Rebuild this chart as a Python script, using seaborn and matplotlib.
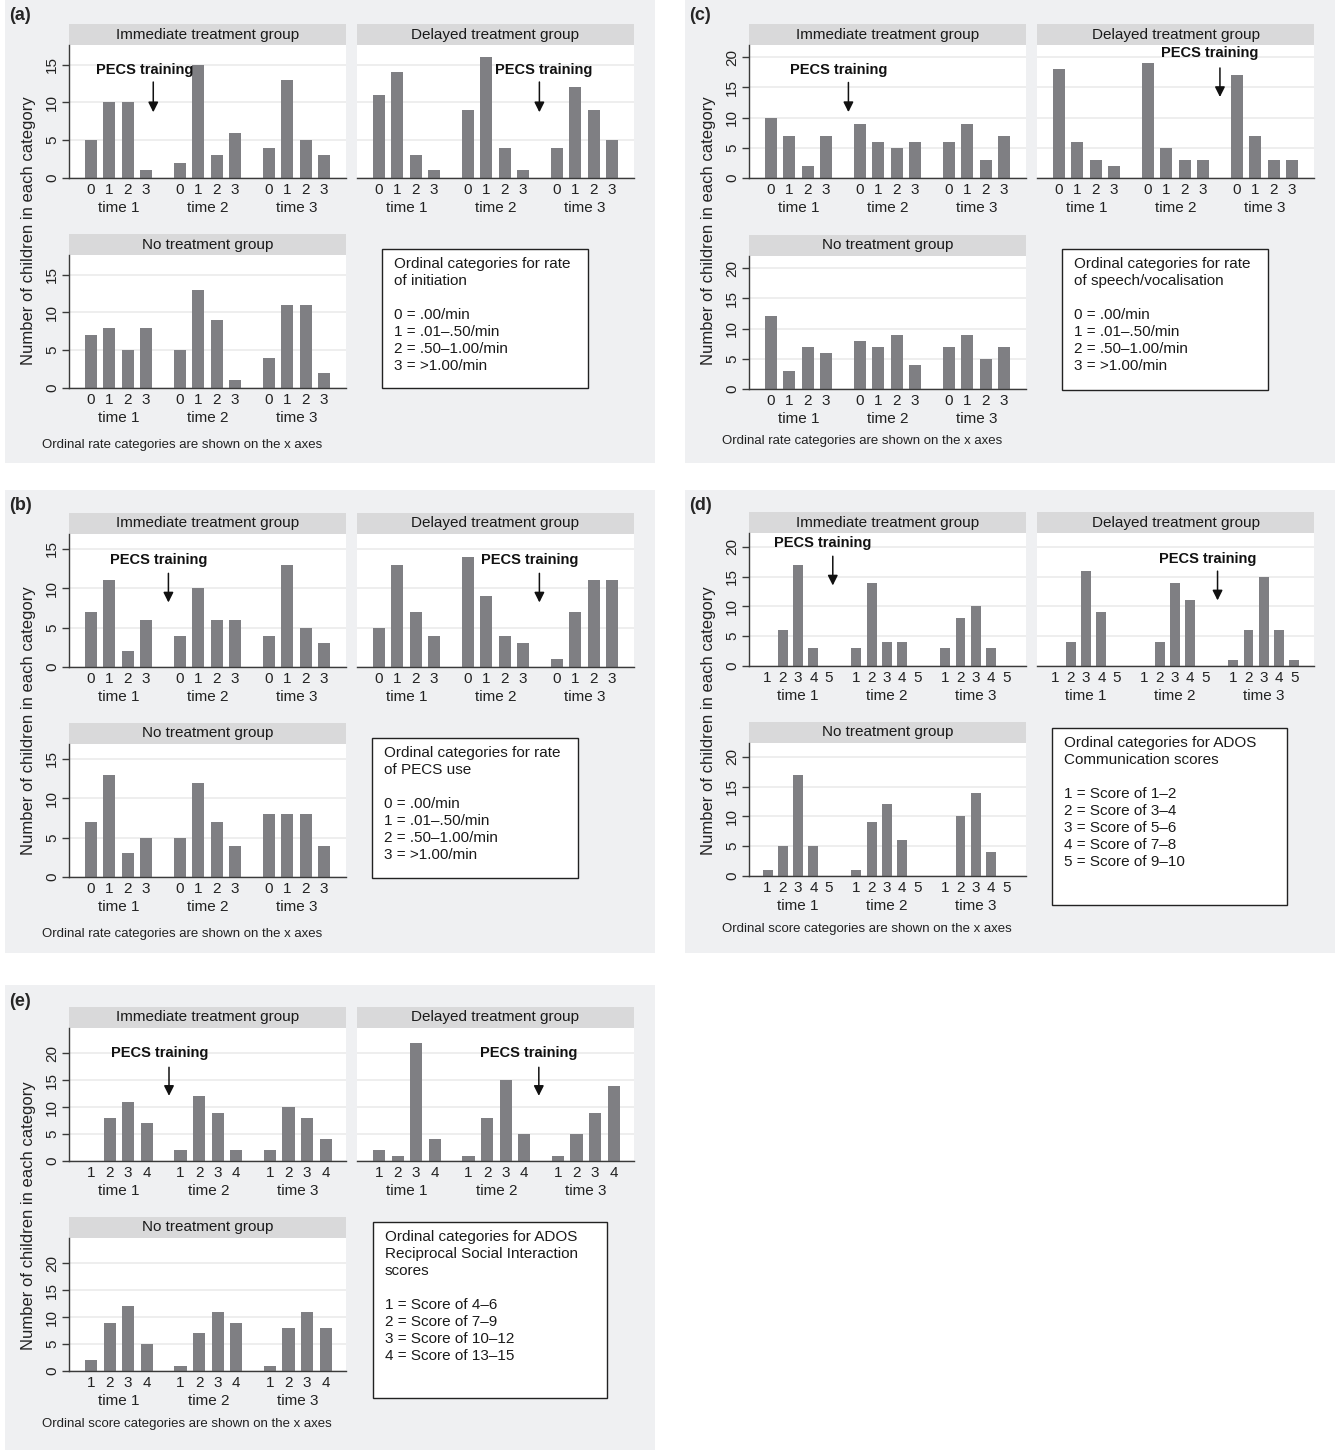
import matplotlib
matplotlib.use("Agg")
import matplotlib.pyplot as plt
from matplotlib.patches import Rectangle
import pandas as pd
import seaborn as sns

sns.set_theme(style="whitegrid")
plt.rcParams['font.family'] = ['Liberation Sans Narrow', 'Liberation Sans', 'DejaVu Sans']

W, H = 1338, 1450

GROUPS = ["Immediate treatment group", "Delayed treatment group", "No treatment group"]
TIMES = ["time 1", "time 2", "time 3"]
RATE_CATS = ["0", "1", "2", "3"]
COMM_CATS = ["1", "2", "3", "4", "5"]
RSI_CATS = ["1", "2", "3", "4"]

# (a) rate of initiation: counts per time point
init_immediate = [[5, 10, 10, 1], [2, 15, 3, 6], [4, 13, 5, 3]]
init_delayed = [[11, 14, 3, 1], [9, 16, 4, 1], [4, 12, 9, 5]]
init_none = [[7, 8, 5, 8], [5, 13, 9, 1], [4, 11, 11, 2]]

# (b) rate of PECS use
pecs_immediate = [[7, 11, 2, 6], [4, 10, 6, 6], [4, 13, 5, 3]]
pecs_delayed = [[5, 13, 7, 4], [14, 9, 4, 3], [1, 7, 11, 11]]
pecs_none = [[7, 13, 3, 5], [5, 12, 7, 4], [8, 8, 8, 4]]

# (c) rate of speech/vocalisation
speech_immediate = [[10, 7, 2, 7], [9, 6, 5, 6], [6, 9, 3, 7]]
speech_delayed = [[18, 6, 3, 2], [19, 5, 3, 3], [17, 7, 3, 3]]
speech_none = [[12, 3, 7, 6], [8, 7, 9, 4], [7, 9, 5, 7]]

# (d) ADOS communication
comm_immediate = [[0, 6, 17, 3, 0], [3, 14, 4, 4, 0], [3, 8, 10, 3, 0]]
comm_delayed = [[0, 4, 16, 9, 0], [0, 4, 14, 11, 0], [1, 6, 15, 6, 1]]
comm_none = [[1, 5, 17, 5, 0], [1, 9, 12, 6, 0], [0, 10, 14, 4, 0]]

# (e) ADOS reciprocal social interaction
rsi_immediate = [[0, 8, 11, 7], [2, 12, 9, 2], [2, 10, 8, 4]]
rsi_delayed = [[2, 1, 22, 4], [1, 8, 15, 5], [1, 5, 9, 14]]
rsi_none = [[2, 9, 12, 5], [1, 7, 11, 9], [1, 8, 11, 8]]

RATE_KEY = ["0 = .00/min", "1 = .01\u2013.50/min", "2 = .50\u20131.00/min", "3 = >1.00/min"]

PANEL_BG = "#eff0f2"
STRIP = "#d9d9da"
BAR = "#7f7f83"
GRID = "#e9e9ea"
AXC = "#3a3a3a"

panels = [
    dict(label="(a)", origin=(5, 0, 650, 463), data=[init_immediate, init_delayed, init_none],
         cats=RATE_CATS, ylim=17.6, yticks=[0, 5, 10, 15], tops=(45, 255), xlim=(-1.17, 13.82),
         arrows=[(3.39, 2.9, 14.3, 12.7, 8.7), (8.7, 8.95, 14.3, 12.7, 8.7)],
         key=["Ordinal categories for rate", "of initiation", ""] + RATE_KEY,
         keybox=(377, 249, 206, 139), foot="Ordinal rate categories are shown on the x axes", foot_y=445),
    dict(label="(c)", origin=(685, 0, 650, 463), data=[speech_immediate, speech_delayed, speech_none],
         cats=RATE_CATS, ylim=22.0, yticks=[0, 5, 10, 15, 20], tops=(45, 256), xlim=(-1.17, 13.82),
         arrows=[(4.21, 3.67, 17.9, 15.8, 10.9), (8.73, 8.2, 20.6, 18.2, 13.4)],
         key=["Ordinal categories for rate", "of speech/vocalisation", ""] + RATE_KEY,
         keybox=(377, 249, 206, 141), foot="Ordinal rate categories are shown on the x axes", foot_y=441),
    dict(label="(b)", origin=(5, 490, 650, 463), data=[pecs_immediate, pecs_delayed, pecs_none],
         cats=RATE_CATS, ylim=16.9, yticks=[0, 5, 10, 15], tops=(44, 254), xlim=(-1.17, 13.82),
         arrows=[(4.21, 3.67, 13.6, 11.9, 8.2), (8.7, 8.16, 13.6, 11.9, 8.2)],
         key=["Ordinal categories for rate", "of PECS use", ""] + RATE_KEY,
         keybox=(367, 248, 206, 140), foot="Ordinal rate categories are shown on the x axes", foot_y=444),
    dict(label="(d)", origin=(685, 490, 650, 463), data=[comm_immediate, comm_delayed, comm_none],
         cats=COMM_CATS, ylim=22.3, yticks=[0, 5, 10, 15, 20], tops=(43, 253), xlim=(-1.22, 16.93),
         arrows=[(4.27, 3.62, 20.6, 18.4, 13.5), (10.61, 9.96, 18.0, 15.9, 11.0)],
         key=["Ordinal categories for ADOS", "Communication scores", "",
              "1 = Score of 1\u20132", "2 = Score of 3\u20134", "3 = Score of 5\u20136",
              "4 = Score of 7\u20138", "5 = Score of 9\u201310"],
         keybox=(367, 238, 235, 177), foot="Ordinal score categories are shown on the x axes", foot_y=439),
    dict(label="(e)", origin=(5, 985, 650, 465), data=[rsi_immediate, rsi_delayed, rsi_none],
         cats=RSI_CATS, ylim=24.7, yticks=[0, 5, 10, 15, 20], tops=(43, 253), xlim=(-1.19, 13.74),
         arrows=[(4.2, 3.69, 20.0, 17.4, 12.1), (8.61, 8.05, 20.0, 17.4, 12.1)],
         key=["Ordinal categories for ADOS", "Reciprocal Social Interaction", "scores", "",
              "1 = Score of 4\u20136", "2 = Score of 7\u20139", "3 = Score of 10\u201312",
              "4 = Score of 13\u201315"],
         keybox=(368, 237, 234, 176), foot="Ordinal score categories are shown on the x axes", foot_y=439),
]


def px_rect(x, y, w, h):
    return [x / W, 1 - (y + h) / H, w / W, h / H]


def fig_box(fig, x, y, w, h, **kw):
    fig.add_artist(Rectangle((x / W, 1 - (y + h) / H), w / W, h / H,
                             transform=fig.transFigure, **kw))


def draw_group(ax, counts, cats, spec, show_y=True):
    k = len(cats)
    step = k + 0.82
    rows = []
    for t, tname in enumerate(TIMES):
        for c, cname in enumerate(cats):
            rows.append({"time": tname, "cat": cname, "count": counts[t][c], "pos": t * step + c})
    df = pd.DataFrame(rows)
    sns.barplot(data=df, x="pos", y="count", native_scale=True, width=0.65, color=BAR,
                saturation=1, errorbar=None, linewidth=0, ax=ax)
    ax.set_xlim(*spec["xlim"])
    ax.set_ylim(0, spec["ylim"])
    ax.set_xticks(df["pos"], labels=df["cat"])
    ax.set_yticks(spec["yticks"])
    ax.set_xlabel("")
    ax.set_ylabel("")
    ax.set_facecolor("white")
    ax.grid(False)
    ax.yaxis.grid(True, color=GRID, lw=1.1)
    ax.set_axisbelow(True)
    for s in ["top", "right"]:
        ax.spines[s].set_visible(False)
    ax.spines["bottom"].set_visible(True)
    ax.spines["bottom"].set_color(AXC)
    ax.spines["bottom"].set_linewidth(1.0)
    ax.tick_params(axis="x", length=0, pad=3.5, labelsize=11, colors="#222222")
    if show_y:
        ax.spines["left"].set_visible(True)
        ax.spines["left"].set_color(AXC)
        ax.spines["left"].set_linewidth(1.0)
        ax.tick_params(axis="y", length=5, width=1, color=AXC, pad=2, labelsize=11,
                       labelrotation=90, labelcolor="#222222", left=True)
        for lab in ax.get_yticklabels():
            lab.set_va("center")
    else:
        ax.spines["left"].set_visible(False)
        ax.tick_params(axis="y", left=False, labelleft=False)
    for t, tname in enumerate(TIMES):
        centre = df[df["time"] == tname]["pos"].mean()
        ax.annotate(tname, xy=(centre, 0), xycoords=("data", "axes fraction"),
                    xytext=(0, -21.5), textcoords="offset points",
                    ha="center", va="center", fontsize=11, color="#222222")


fig = plt.figure(figsize=(W / 100, H / 100), dpi=100)
fig.patch.set_facecolor("white")

AX_W, AX_H = 277, 133
for spec in panels:
    ox, oy, pw, ph = spec["origin"]
    fig_box(fig, ox, oy, pw, ph, facecolor=PANEL_BG, edgecolor="none", zorder=-5)
    fig.text((ox + 4) / W, 1 - (oy + 16) / H, spec["label"], fontsize=13, fontweight="bold",
             ha="left", va="center")
    top0, top1 = spec["tops"]
    places = [(64, top0), (352, top0), (64, top1)]
    for gi, group in enumerate(GROUPS):
        ax_x, ax_y = places[gi]
        fig_box(fig, ox + ax_x, oy + ax_y - 21, AX_W, 21, facecolor=STRIP, edgecolor="none", zorder=-1)
        fig.text((ox + ax_x + AX_W / 2) / W, 1 - (oy + ax_y - 10.5) / H, group,
                 ha="center", va="center", fontsize=11, color="#1a1a1a")
        ax = fig.add_axes(px_rect(ox + ax_x, oy + ax_y, AX_W, AX_H))
        draw_group(ax, spec["data"][gi], spec["cats"], spec, show_y=(gi != 1))
        if gi < 2:
            ax_x_, tx, ty, tail, tip = spec["arrows"][gi]
            ax.text(tx, ty, "PECS training", ha="center", va="center", fontsize=10.5,
                    fontweight="bold", color="#111111")
            ax.annotate("", xy=(ax_x_, tip), xytext=(ax_x_, tail),
                        arrowprops=dict(arrowstyle="-|>", color="#111111", lw=1.1,
                                        mutation_scale=15, shrinkA=0, shrinkB=0))
    # y label spanning both rows
    fig.text((ox + 24) / W, 1 - (oy + 231) / H, "Number of children in each category",
             rotation=90, ha="center", va="center", fontsize=12, color="#222222")
    # key box
    kx, ky, kw, kh = spec["keybox"]
    fig_box(fig, ox + kx, oy + ky, kw, kh, facecolor="white", edgecolor="#222222", lw=1.0, zorder=1)
    for li, line in enumerate(spec["key"]):
        fig.text((ox + kx + 12) / W, 1 - (oy + ky + 15 + li * 17) / H, line,
                 ha="left", va="center", fontsize=11, color="#1a1a1a", zorder=2)
    fig.text((ox + 37) / W, 1 - (oy + spec["foot_y"]) / H, spec["foot"],
             ha="left", va="center", fontsize=9.5, color="#222222")

fig.savefig("out.png", dpi=100, facecolor="white")
